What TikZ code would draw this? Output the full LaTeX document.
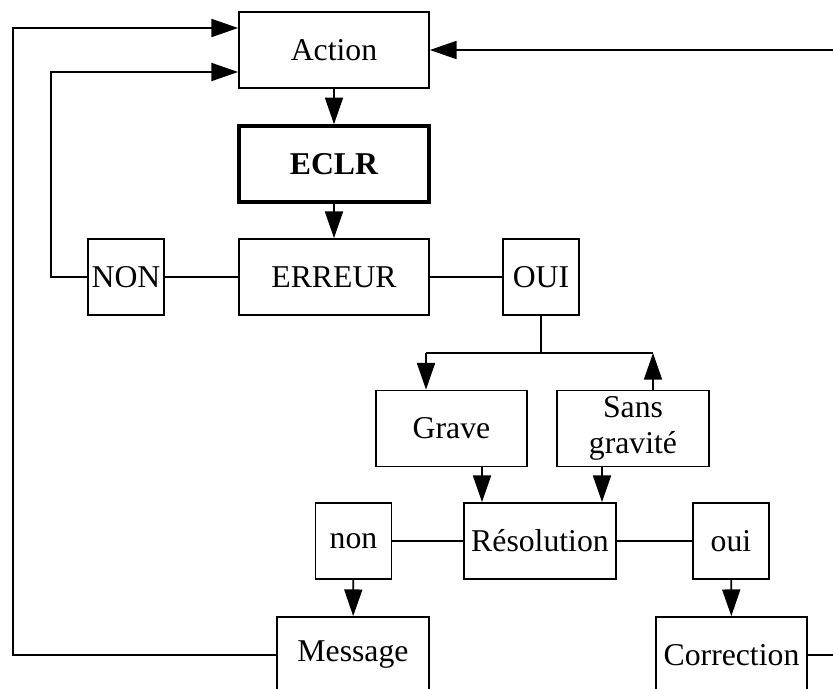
\documentclass[tikz,border=0pt]{standalone}
\usepackage{fontspec}
\setmainfont{Liberation Serif}
\usetikzlibrary{arrows.meta}
\begin{document}
\begin{tikzpicture}[x=0.75pt,y=-0.75pt,
  box/.style={draw,line width=1.3pt,inner sep=0pt,align=center,
    minimum height=57pt,font=\fontsize{23.8}{27}\selectfont},
  wide/.style={box,minimum width=142.5pt},
  mid/.style={box,minimum width=113.5pt},
  small/.style={box,minimum width=57pt},
  link/.style={line width=1.3pt},
  arr/.style={link,-{Triangle[length=20pt,width=13.5pt]}}
]
\useasboundingbox (0,0) rectangle (833,689);
\clip (0,0) rectangle (833,689);

% main chain
\node[wide] (act) at (334,50) {Action};
\node[wide,line width=2.6pt,font=\fontsize{23.8}{27}\selectfont\bfseries] (eclr) at (334,164) {ECLR};
\node[wide] (err) at (334,277) {ERREUR};
\node[small] (non1) at (126,277) {NON};
\node[small] (oui1) at (541,277) {OUI};

% severity branch
\node[mid] (grave) at (451.5,428.5) {Grave};
\node[mid] (sans) at (633,428.5) {Sans\\gravité};
\node[mid] (res) at (540,541) {Résolution};
\node[small] (non2) at (353.5,541) {non};
\node[small] (oui2) at (731,541) {oui};
\node[mid] (msg) at (353,655) {Message};
\node[mid] (corr) at (731.5,655) {Correction};

\coordinate (split) at (541,353);

\draw[arr] (act) -- (eclr);
\draw[arr] (eclr) -- (err);
\draw[link] (non1) -- (err);
\draw[link] (err) -- (oui1);
\draw[arr] (non1.west) -| (51,72) -- (act.west |- 0,72);

\draw[link] (oui1.south) -- (split);
\draw[link] (426,353) -- (653,353);
\draw[arr] (426,353) -- (426,0 |- grave.north);
\draw[arr] (653,0 |- sans.north) -- (653,353);

\draw[arr] (482,0 |- grave.south) -- (482,0 |- res.north);
\draw[arr] (602,0 |- sans.south) -- (602,0 |- res.north);
\draw[link] (non2) -- (res);
\draw[link] (res) -- (oui2);
\draw[arr] (non2) -- (msg);
\draw[arr] (oui2) -- (corr);

% feedback loops
\draw[arr] (msg.west) -| (13,28) -- (act.west |- 0,28);
\draw[arr] (corr.east) -| (850,50) -- (act.east);
\end{tikzpicture}
\end{document}
